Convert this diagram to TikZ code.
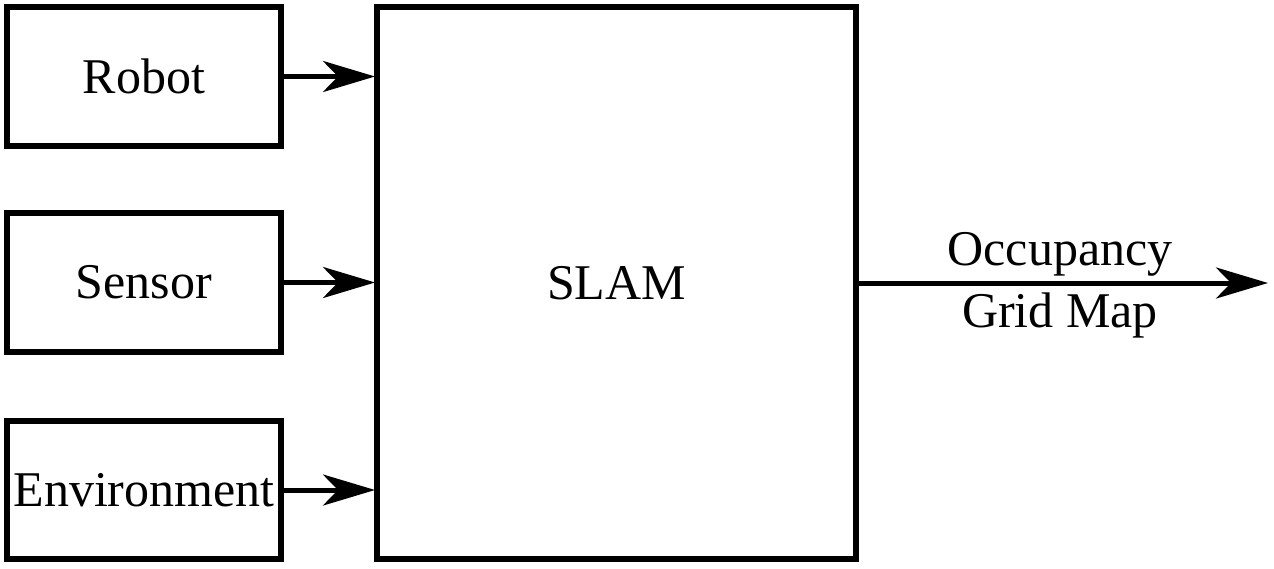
\documentclass[tikz,border=0pt]{standalone}
\usepackage{fontspec}
\setmainfont{Liberation Serif}
\usetikzlibrary{arrows.meta}
\begin{document}
\begin{tikzpicture}[x=1pt,y=-1pt,
  blk/.style={draw=black,line width=5.5pt,fill=white,inner sep=0pt,outer sep=0pt},
  lbl/.style={font=\fontsize{50}{62}\selectfont},
  conn/.style={line width=5pt,-{Stealth[length=52pt,width=31pt,inset=15pt]}}]
\useasboundingbox (0,0) rectangle (1274,568);
\node[blk,minimum width=274pt,minimum height=139pt] (robot) at (144,76.5) {};
\node[blk,minimum width=274pt,minimum height=139pt] (sensor) at (144,282.5) {};
\node[blk,minimum width=274pt,minimum height=138pt] (env) at (144,490) {};
\node[blk,minimum width=479pt,minimum height=552pt] (slam) at (616.5,283) {};
\node[lbl] (trobot) at (robot.center) {Robot};
\node[lbl] (tsensor) at (sensor.center) {Sensor};
\node[lbl] (tenv) at (env.center) {Environment};
\node[lbl] (tslam) at (slam.center) {SLAM};
\coordinate (out) at (1268,283);
\draw[conn] (robot.east) -- ([xshift=-2pt]robot.east -| slam.west);
\draw[conn] (sensor.east) -- ([xshift=-2pt]sensor.east -| slam.west);
\draw[conn] (env.east) -- ([xshift=-2pt]env.east -| slam.west);
\draw[conn] (slam.east |- out) -- (out);
\node[lbl,align=center] (tout) at (1060,285) {Occupancy\\Grid Map};
\end{tikzpicture}
\end{document}
